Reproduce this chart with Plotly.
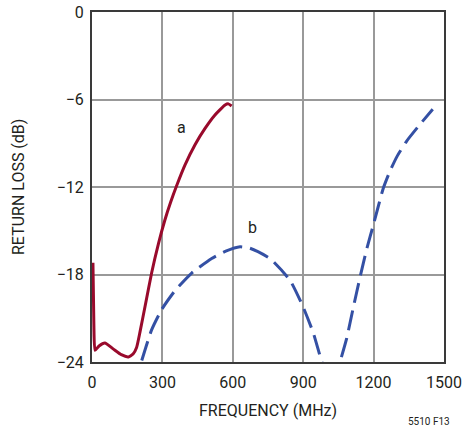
import plotly.graph_objects as go

# Curve a (solid, red)
freq_a = [4, 8, 13, 30, 55, 90, 125, 155, 175, 190, 205, 226, 254, 283, 310, 335, 361, 396, 439, 481, 524, 567, 581, 595]
rl_a = [-17.2, -21.5, -23.2, -22.9, -22.7, -23.1, -23.5, -23.65, -23.45, -23.0, -21.9, -20.2, -17.9, -15.9, -14.3, -13.05, -11.9, -10.5, -9.1, -8.0, -7.06, -6.38, -6.3, -6.45]

# Curve b (dashed, blue)
freq_b = [212, 254, 297, 354, 425, 510, 570, 631, 673, 758, 844, 899, 943, 972, 1000, 1015, 1035, 1057, 1085, 1113, 1142, 1170, 1199, 1241, 1270, 1300, 1341, 1398, 1452]
rl_b = [-23.9, -21.8, -20.4, -19.1, -17.9, -16.9, -16.4, -16.1, -16.2, -16.9, -18.4, -20.2, -22.0, -23.6, -25.0, -25.6, -25.3, -24.0, -22.4, -20.3, -18.2, -16.3, -14.6, -12.1, -10.9, -9.9, -8.85, -7.7, -6.67]

x_ticks = [0, 300, 600, 900, 1200, 1500]
y_ticks = [0, -6, -12, -18, -24]
y_tick_text = ["0", "\u22126", "\u221212", "\u221218", "\u221224"]

font_family = "Roboto, Liberation Sans, sans-serif"
txt = "#231f20"

fig = go.Figure()
fig.add_trace(go.Scatter(x=freq_a, y=rl_a, mode="lines",
                         line=dict(color="#990a2c", width=3, shape="spline", smoothing=0.5),
                         showlegend=False))
fig.add_trace(go.Scatter(x=freq_b, y=rl_b, mode="lines",
                         line=dict(color="#3450a4", width=3, dash="20px,8px", shape="spline", smoothing=0.5),
                         showlegend=False))

fig.add_annotation(x=383, y=-7.9, text="a", showarrow=False,
                   font=dict(size=16, color=txt, family=font_family))
fig.add_annotation(x=682, y=-14.75, text="b", showarrow=False,
                   font=dict(size=16, color=txt, family=font_family))
# axis titles
fig.add_annotation(x=0.5, y=0, xref="paper", yref="paper", xanchor="center", yanchor="middle",
                   yshift=-48, text="FREQUENCY (MHz)", showarrow=False,
                   font=dict(size=16, color=txt, family=font_family))
fig.add_annotation(x=0, y=0.5, xref="paper", yref="paper", xanchor="center", yanchor="middle",
                   xshift=-74, text="RETURN LOSS (dB)", textangle=-90, showarrow=False,
                   font=dict(size=16, color=txt, family=font_family))
fig.add_annotation(x=1, y=0, xref="paper", yref="paper", xanchor="right", yanchor="middle",
                   yshift=-59, xshift=8, text="5510 F13", showarrow=False,
                   font=dict(size=10, color=txt, family=font_family))

fig.update_layout(
    width=463, height=428,
    margin=dict(l=92, r=19, t=12, b=66),
    paper_bgcolor="white", plot_bgcolor="white",
    font=dict(family=font_family, color=txt, size=16),
    hovermode=False,
)
fig.update_xaxes(range=[0, 1500], tickvals=x_ticks, ticks="", showgrid=True, automargin=False,
                 gridcolor="#999999", gridwidth=1.5, showline=True, linecolor="#3a3a3a", linewidth=2,
                 mirror=True, zeroline=False, tickfont=dict(size=16), ticklabelstandoff=5,
                 ticklabeloverflow="allow")
fig.update_yaxes(range=[-24, 0], tickvals=y_ticks, ticktext=y_tick_text, ticks="", automargin=False,
                 showgrid=True, gridcolor="#999999", gridwidth=1.5, showline=True,
                 linecolor="#3a3a3a", linewidth=2, mirror=True, zeroline=False,
                 tickfont=dict(size=16), ticklabelstandoff=3, ticklabeloverflow="allow")

# remove the default 8px page margin so the figure sits at the window's top-left corner
fig.write_html("out.html", config={"displayModeBar": False},
               post_script="document.body.style.margin='0';")
